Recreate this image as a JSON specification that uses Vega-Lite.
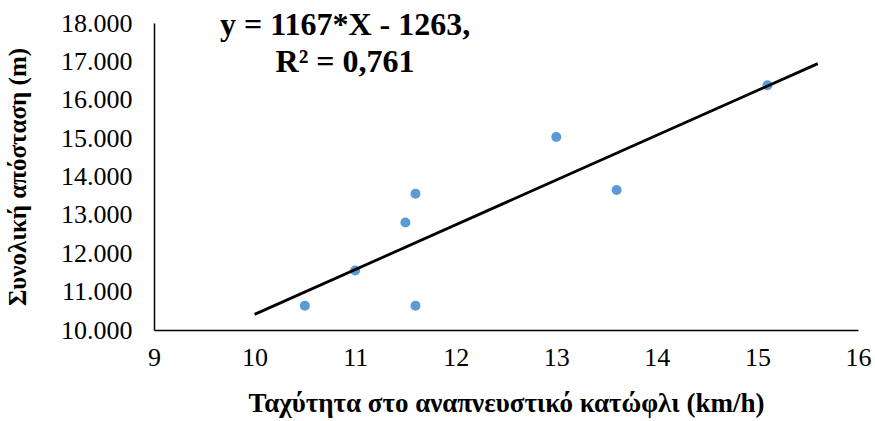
{
  "$schema": "https://vega.github.io/schema/vega-lite/v6.json",
  "width": 704,
  "height": 307,
  "autosize": {"type": "none"},
  "padding": {"left": 154, "top": 23, "right": 17, "bottom": 91},
  "background": "white",
  "config": {
    "view": {"stroke": null},
    "locale": {"number": {"decimal": ",", "thousands": ".", "grouping": [3], "currency": ["", "€"]}},
    "axis": {"grid": false, "ticks": false, "domainColor": "#000000", "domainWidth": 1.5,
      "labelOverlap": false, "labelFlush": false,
      "labelFont": "Liberation Serif", "labelColor": "#000000", "labelFontSize": 26,
      "titleFont": "Liberation Serif", "titleColor": "#000000", "titleFontSize": 26, "titleFontWeight": "bold"}
  },
  "datasets": {
    "pts": [
      {"speed": 10.5, "dist": 10630},
      {"speed": 11.0, "dist": 11550},
      {"speed": 11.5, "dist": 12800},
      {"speed": 11.6, "dist": 13550},
      {"speed": 11.6, "dist": 10630},
      {"speed": 13.0, "dist": 15030},
      {"speed": 13.6, "dist": 13650},
      {"speed": 15.1, "dist": 16380}
    ],
    "trend": [
      {"speed": 10.0, "dist": 10407},
      {"speed": 15.6, "dist": 16942}
    ],
    "notes": [
      {"speed": 10.9, "dist": 17940, "label": "y = 1167*X - 1263,"},
      {"speed": 10.9, "dist": 16980, "label": "R² = 0,761"}
    ]
  },
  "encoding": {
    "x": {"field": "speed", "type": "quantitative",
      "scale": {"domain": [9, 16], "nice": false, "zero": false},
      "axis": {"values": [9, 10, 11, 12, 13, 14, 15, 16], "title": "Ταχύτητα στο αναπνευστικό κατώφλι (km/h)",
        "labelOverlap": false, "labelPadding": 14, "titlePadding": 20, "titleFontSize": 27, "format": "d"}},
    "y": {"field": "dist", "type": "quantitative",
      "scale": {"domain": [10000, 18000], "nice": false, "zero": false},
      "axis": {"values": [10000, 11000, 12000, 13000, 14000, 15000, 16000, 17000, 18000], "format": ",.0f",
        "labelOverlap": false, "labelBound": false, "titleFontSize": 25,
        "title": "Συνολική απόσταση (m)", "labelPadding": 22, "titlePadding": 30}}
  },
  "layer": [
    {
      "data": {"name": "pts"},
      "mark": {"type": "point", "filled": true, "shape": "circle", "size": 100, "color": "#5B9BD5", "opacity": 1}
    },
    {
      "data": {"name": "trend"},
      "mark": {"type": "line", "color": "#000000", "strokeWidth": 2.8}
    },
    {
      "data": {"name": "notes"},
      "mark": {"type": "text", "font": "Liberation Serif", "fontSize": 32, "fontWeight": "bold", "color": "#000000", "align": "center", "baseline": "middle"},
      "encoding": {
        "text": {"field": "label"}
      }
    }
  ]
}
